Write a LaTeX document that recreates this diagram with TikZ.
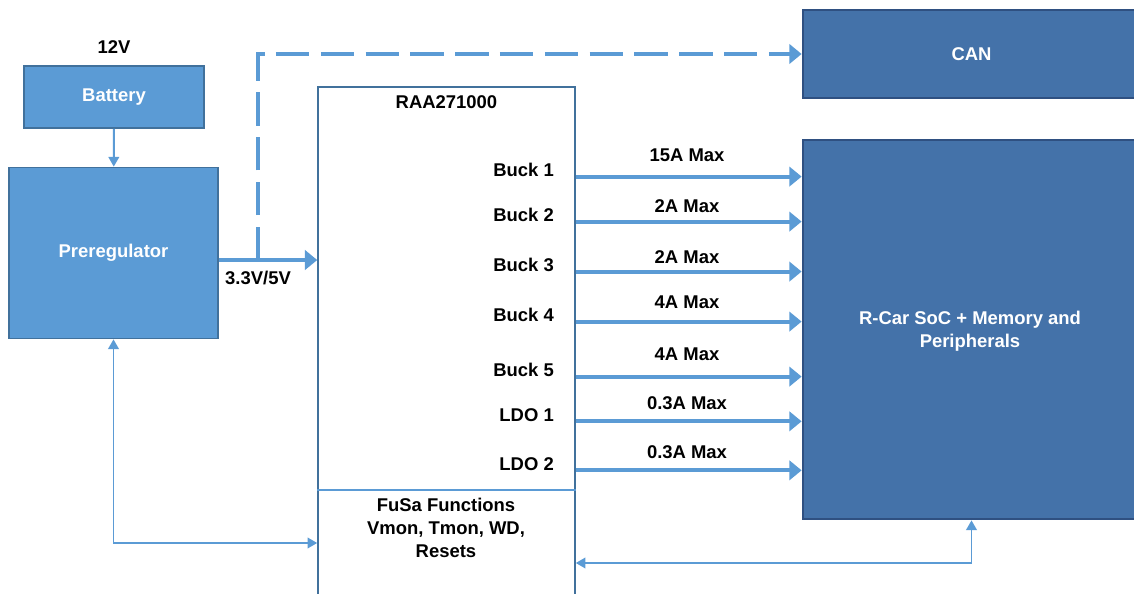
\documentclass[tikz,border=0pt]{standalone}
\usepackage{fontspec}
\setmainfont{Liberation Sans}
\usetikzlibrary{arrows.meta}
\definecolor{litblue}{HTML}{5B9BD5}
\definecolor{litedge}{HTML}{41719C}
\definecolor{darkblue}{HTML}{4472A9}
\definecolor{darkedge}{HTML}{2F5081}
\tikzset{
 lbox/.style={draw=litedge,fill=litblue,line width=1pt,inner sep=0pt,text=white},
 dbox/.style={draw=darkedge,fill=darkblue,line width=1.6pt,inner sep=0pt,text=white},
 chip/.style={draw=litedge,line width=0.9pt,inner sep=0pt},
 wire/.style={draw=litblue,line width=1.1pt,-{Triangle[length=5.5pt,width=6pt]}},
 bus/.style={draw=litblue,line width=2.2pt,-{Triangle[length=7pt,width=11pt]}},
}
\begin{document}
\begin{tikzpicture}[x=0.02cm,y=-0.02cm,font=\fontsize{10.5}{13}\selectfont\bfseries]
 \useasboundingbox (0,0) rectangle (1134,594);
 % blocks
 \node[lbox,minimum width=3.6cm,minimum height=1.24cm] (bat) at (114,97) {Battery};
 \node[above=3pt] (vbat) at (bat.north) {12V};
 \node[lbox,minimum width=4.18cm,minimum height=3.42cm] (pre) at (113.5,253) {Preregulator};
 \node[dbox,minimum width=6.74cm,minimum height=1.76cm] (can) at (971.5,54) {CAN};
 \node[dbox,minimum width=6.74cm,minimum height=7.58cm] (soc) at (971.5,329.5) {};
 \node[align=center,text=white] (soctext) at (970,331) {R-Car SoC + Memory and\\Peripherals};
 \node[chip,minimum width=5.14cm,minimum height=10.4cm] (raa) at (446.5,347) {};
 \node[below=2pt] (raaname) at (raa.north) {RAA271000};
 \coordinate (split) at (0,490);
 \draw[litblue,line width=1.1pt] (raa.west |- split) -- (raa.east |- split);
 \node[align=center] (fusa) at (446,528) {FuSa Functions\\Vmon, Tmon, WD,\\Resets};
 % supply in
 \draw[wire] (bat) -- (pre);
 \coordinate (out) at ([yshift=-4pt]pre.east);
 \coordinate (tap) at (258,0);
 \draw[bus] (out) -- (out -| raa.west);
 \node[below=3pt] (vout) at (tap |- out) {3.3V/5V};
 \draw[bus,dash pattern=on 19pt off 6.5pt] (tap |- out) -- (tap |- can.west) -- (can.west);
 % rails
 \foreach [count=\i] \lbl/\y/\amp/\ay in {Buck 1/170/15A Max/155,Buck 2/215/2A Max/206,
  Buck 3/265/2A Max/257,Buck 4/315/4A Max/302,Buck 5/370/4A Max/354,
  LDO 1/415/0.3A Max/403,LDO 2/464/0.3A Max/452}{
  \node[anchor=east] (rail\i) at (560,\y) {\lbl};
  \node (amp\i) at (687,\ay) {\amp};
  \draw[bus] (rail\i.base -| raa.east) -- (rail\i.base -| soc.west);
 }
 % monitor links
 \coordinate (fbl) at (0,543);
 \coordinate (fbr) at (0,563);
 \draw[wire,{Triangle[length=5.5pt,width=6pt]}-{Triangle[length=5.5pt,width=6pt]}]
  (pre.south) |- (raa.west |- fbl);
 \draw[wire,{Triangle[length=5.5pt,width=6pt]}-{Triangle[length=5.5pt,width=6pt]}]
  (soc.south) |- (raa.east |- fbr);
\end{tikzpicture}
\end{document}
